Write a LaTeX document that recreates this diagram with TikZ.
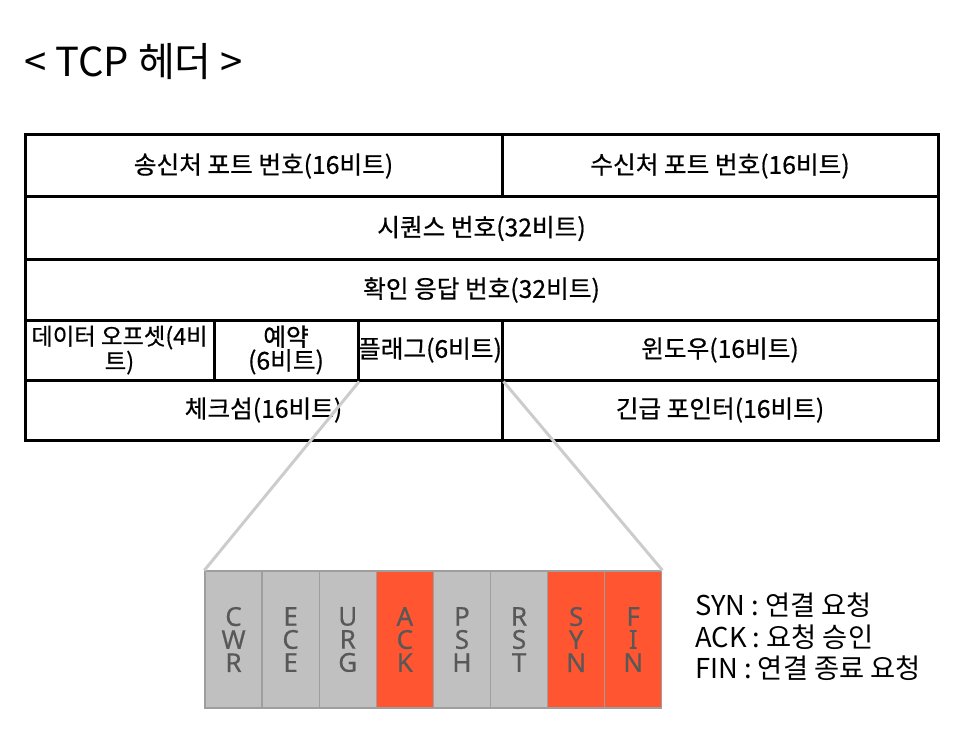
\documentclass[tikz,border=0pt]{standalone}
\usepackage{fontspec}
\setmainfont{Noto Sans CJK KR}
\newfontfamily\tblfont[FakeBold=0.6]{Noto Sans CJK KR}
\newfontfamily\flagfont[FakeBold=0.4]{Noto Sans}
\usetikzlibrary{positioning}
\definecolor{flagred}{HTML}{FF5530}
\definecolor{flaggray}{HTML}{C0C0C0}
\definecolor{flagedge}{HTML}{9E9E9E}
\definecolor{flagtext}{HTML}{585858}
\definecolor{zoomline}{HTML}{CCCCCC}
\tikzset{
  hcell/.style={draw=black, line width=2.25pt, inner sep=0pt, align=center,
    font=\tblfont\fontsize{18.5}{15.5}\selectfont},
  fcell/.style={draw=flagedge, line width=1pt, inner sep=0pt, align=center,
    text=flagtext, font=\flagfont\fontsize{19.5}{17.3}\selectfont,
    minimum width={57.1*0.75pt}, minimum height={137*0.75pt}},
  zoomln/.style={draw=zoomline, line width=2.2pt},
  legend/.style={anchor=west, inner sep=0pt, font=\fontsize{20.5}{24}\selectfont}
}
\newcommand\hc[6]{\node[hcell, minimum width={(#4-#2)*0.75pt}, minimum height={(#5-#3)*0.75pt}] (#1) at ({(#2+#4)/2},{(#3+#5)/2}) {#6};}
\begin{document}
\begin{tikzpicture}[x=0.75pt, y=-0.75pt]
\useasboundingbox[fill=white] (0,0) rectangle (973,748);
\node[anchor=west, inner sep=0pt, font=\fontsize{30}{32}\selectfont] (title) at (24,62) {< TCP 헤더 >};
% header table
\hc{src}{25}{135}{502}{197}{송신처 포트 번호(16비트)}
\hc{dst}{502}{135}{938}{197}{수신처 포트 번호(16비트)}
\hc{seq}{25}{197}{938}{260}{시퀀스 번호(32비트)}
\hc{ack}{25}{260}{938}{320}{확인 응답 번호(32비트)}
\hc{off}{25}{320}{214}{380}{\fontsize{17.5}{15.5}\selectfont 데이터 오프셋(4비\\\fontsize{17.5}{15.5}\selectfont 트)}
\hc{rsv}{214}{320}{358}{380}{예약\\(6비트)}
\hc{flg}{358}{320}{502}{380}{플래그(6비트)}
\hc{win}{502}{320}{938}{380}{윈도우(16비트)}
\hc{chk}{25}{380}{502}{440}{체크섬(16비트)}
\hc{urg}{502}{380}{938}{440}{긴급 포인터(16비트)}
% flags
\node[fcell, fill=flaggray] (f1) at ({205+57.1*0.5},639.5) {C\\W\\R};
\node[fcell, fill=flaggray] (f2) at ({205+57.1*1.5},639.5) {E\\C\\E};
\node[fcell, fill=flaggray] (f3) at ({205+57.1*2.5},639.5) {U\\R\\G};
\node[fcell, fill=flagred]  (f4) at ({205+57.1*3.5},639.5) {A\\C\\K};
\node[fcell, fill=flaggray] (f5) at ({205+57.1*4.5},639.5) {P\\S\\H};
\node[fcell, fill=flaggray] (f6) at ({205+57.1*5.5},639.5) {R\\S\\T};
\node[fcell, fill=flagred]  (f7) at ({205+57.1*6.5},639.5) {S\\Y\\N};
\node[fcell, fill=flagred]  (f8) at ({205+57.1*7.5},639.5) {F\\I\\N};
% zoom lines
\draw[zoomln] ([xshift=2pt]flg.south west) -- (f1.north west);
\draw[zoomln] (flg.south east) -- (f8.north east);
% legend
\node[legend] (l1) at (695,605) {SYN : 연결 요청};
\node[legend] (l2) at (695,637) {ACK : 요청 승인};
\node[legend] (l3) at (695,668) {FIN : 연결 종료 요청};
\end{tikzpicture}
\end{document}
